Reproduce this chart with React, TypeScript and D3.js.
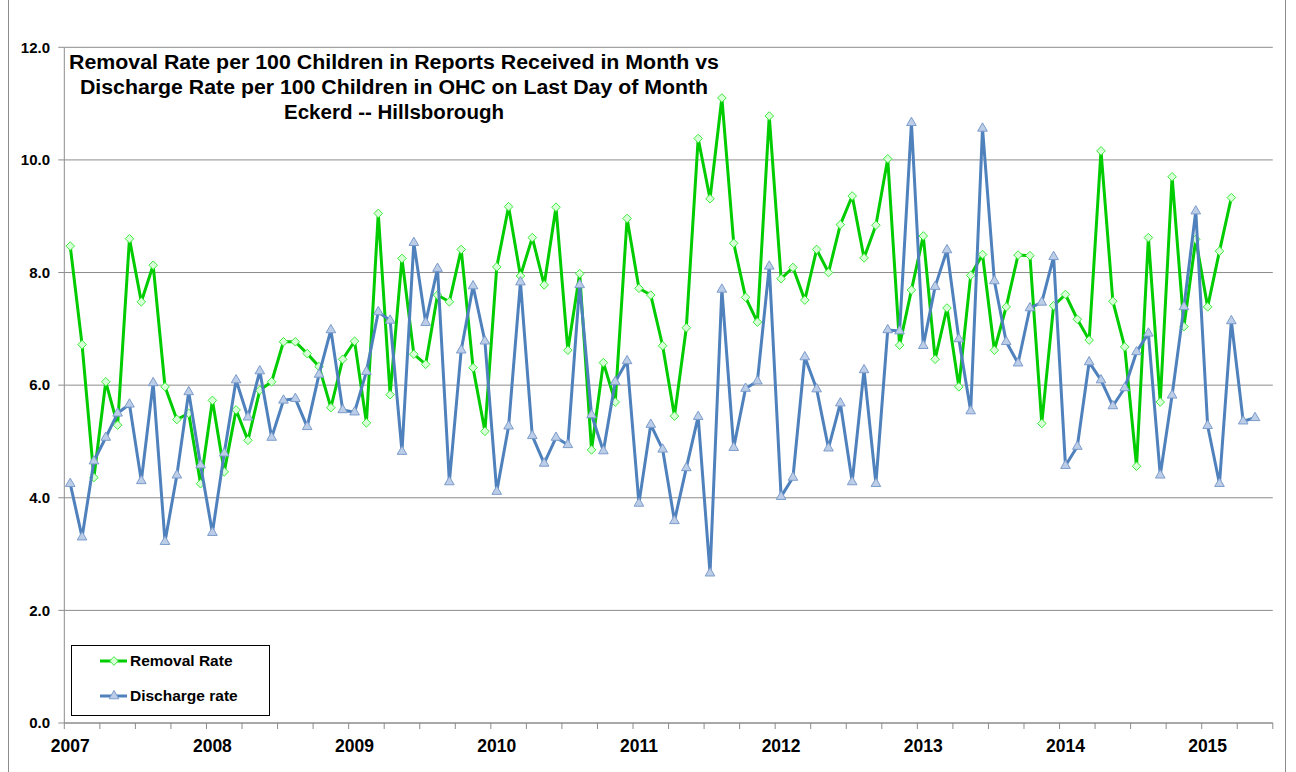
import React from 'react';
import * as d3 from 'd3';

// ---- data (monthly, starting January 2007) ----
const monthCount = 102; // Jan 2007 .. Jun 2015 axis span
const yearLabels = ['2007', '2008', '2009', '2010', '2011', '2012', '2013', '2014', '2015'];
const yTicks = [0, 2, 4, 6, 8, 10, 12];
const seriesNames = ['Removal Rate', 'Discharge rate'];
const titleLines = [
  'Removal Rate per 100 Children in Reports Received in Month vs',
  'Discharge Rate per 100 Children in OHC on Last Day of Month',
  'Eckerd -- Hillsborough',
];
const titleWidths = [650, 628, 220];

const removalRate = [
  8.47, 6.72, 4.36, 6.06, 5.29, 8.6, 7.48, 8.13, 5.97, 5.39, 5.5, 4.25,
  5.73, 4.46, 5.56, 5.02, 5.91, 6.06, 6.77, 6.77, 6.56, 6.33, 5.6, 6.46,
  6.78, 5.33, 9.05, 5.83, 8.25, 6.55, 6.37, 7.6, 7.48, 8.41, 6.31, 5.18,
  8.1, 9.17, 7.94, 8.62, 7.78, 9.16, 6.62, 7.98, 4.85, 6.4, 5.7, 8.96,
  7.72, 7.6, 6.7, 5.45, 7.02, 10.38, 9.31, 11.1, 8.52, 7.56, 7.12, 10.78,
  7.89, 8.09, 7.51, 8.41, 8.0, 8.85, 9.36, 8.26, 8.84, 10.02, 6.71, 7.69,
  8.65, 6.46, 7.37, 5.97, 7.95, 8.32, 6.62, 7.39, 8.31, 8.3, 5.32, 7.41,
  7.61, 7.17, 6.8, 10.16, 7.49, 6.68, 4.56, 8.62, 5.7, 9.7, 7.04, 8.59,
  7.39, 8.38, 9.33,
];

const dischargeRate = [
  4.25, 3.3, 4.65, 5.07, 5.5, 5.66, 4.3, 6.04, 3.22, 4.4, 5.88, 4.58,
  3.38, 4.79, 6.09, 5.43, 6.25, 5.07, 5.73, 5.76, 5.26, 6.19, 6.98, 5.56,
  5.52, 6.24, 7.3, 7.15, 4.82, 8.53, 7.11, 8.07, 4.28, 6.62, 7.76, 6.78,
  4.11, 5.27, 7.83, 5.1, 4.61, 5.07, 4.94, 7.78, 5.47, 4.83, 6.06, 6.43,
  3.9, 5.3, 4.86, 3.59, 4.53, 5.44, 2.66, 7.7, 4.89, 5.94, 6.07, 8.11,
  4.02, 4.36, 6.5, 5.93, 4.88, 5.68, 4.28, 6.27, 4.25, 6.98, 6.96, 10.66,
  6.7, 7.75, 8.4, 6.82, 5.54, 10.56, 7.85, 6.77, 6.39, 7.37, 7.47, 8.28,
  4.57, 4.91, 6.41, 6.09, 5.63, 5.95, 6.59, 6.92, 4.4, 5.82, 7.39, 9.09,
  5.28, 4.25, 7.14, 5.36, 5.42,
];

const GREEN = '#00CC00';
const GREEN_MK_STROKE = '#3CEB3C';
const GREEN_MK_FILL = '#D8FFD8';
const BLUE = '#4F81BD';
const BLUE_MK_STROKE = '#7C9CCB';
const BLUE_MK_FILL = '#BCCDE8';
const FONT = '"Liberation Sans", Arial, sans-serif';

const diamondPath = 'M0,-4.3L4.3,0L0,4.3L-4.3,0Z';
const trianglePath = d3.symbol(d3.symbolTriangle, 40)() as string;

export default function App() {
  const left = 64.3;
  const right = 1272.8;
  const top = 47.3;
  const bottom = 723;
  const x = d3.scaleLinear().domain([0, monthCount]).range([left, right]);
  const y = d3.scaleLinear().domain([0, 12]).range([bottom, top]);

  const line = d3
    .line<number>()
    .x((_, i) => x(i + 0.5))
    .y((d) => y(d));

  const quarterTicks = d3.range(0, monthCount + 1, 3);

  return (
    <svg
      width={1296}
      height={772}
      style={{ position: 'absolute', left: 0, top: 0, background: '#fff' }}
      fontFamily={FONT}
    >
      <rect x={0} y={0} width={1296} height={772} fill="#fff" />
      {/* outer chart border */}
      <rect x={8.5} y={-2} width={1277} height={790} fill="none" stroke="#8c8c8c" strokeWidth={1} />

      {/* gridlines */}
      {yTicks.map((t) => (
        <line key={'g' + t} x1={left} x2={right} y1={y(t)} y2={y(t)} stroke="#8c8c8c" strokeWidth={1} />
      ))}
      {/* y axis */}
      <line x1={left} x2={left} y1={top} y2={bottom} stroke="#8c8c8c" strokeWidth={1} />
      {yTicks.map((t) => (
        <g key={'yt' + t}>
          <line x1={left - 6} x2={left} y1={y(t)} y2={y(t)} stroke="#8c8c8c" />
          <text
            x={50}
            y={y(t)}
            dy="0.35em"
            textAnchor="end"
            fontSize={15}
            fontWeight="bold"
            fill="#000"
          >
            {t.toFixed(1)}
          </text>
        </g>
      ))}

      {/* x axis */}
      <line x1={left} x2={right} y1={bottom} y2={bottom} stroke="#8c8c8c" />
      {quarterTicks.map((m) => (
        <line key={'xt' + m} x1={x(m)} x2={x(m)} y1={bottom} y2={bottom + 6} stroke="#8c8c8c" />
      ))}
      {yearLabels.map((lab, k) => (
        <text
          key={lab}
          x={x(k * 12 + 0.5)}
          y={752}
          textAnchor="middle"
          fontSize={17.5}
          fontWeight="bold"
          fill="#000"
        >
          {lab}
        </text>
      ))}

      {/* removal series */}
      <path d={line(removalRate) || ''} fill="none" stroke={GREEN} strokeWidth={3} strokeLinejoin="round" />
      {removalRate.map((v, i) => (
        <path
          key={'r' + i}
          d={diamondPath}
          transform={`translate(${x(i + 0.5)},${y(v)})`}
          fill={GREEN_MK_FILL}
          stroke={GREEN_MK_STROKE}
          strokeWidth={1}
        />
      ))}

      {/* discharge series */}
      <path d={line(dischargeRate) || ''} fill="none" stroke={BLUE} strokeWidth={3} strokeLinejoin="round" />
      {dischargeRate.map((v, i) => (
        <path
          key={'d' + i}
          d={trianglePath}
          transform={`translate(${x(i + 0.5)},${y(v)})`}
          fill={BLUE_MK_FILL}
          stroke={BLUE_MK_STROKE}
          strokeWidth={1}
        />
      ))}

      {/* title */}
      {titleLines.map((t, k) => (
        <text
          key={'t' + k}
          x={394}
          y={69 + k * 25}
          textAnchor="middle"
          fontSize={20}
          fontWeight="bold"
          fill="#000"
          textLength={titleWidths[k]}
          lengthAdjust="spacingAndGlyphs"
        >
          {t}
        </text>
      ))}

      {/* legend */}
      <rect x={71.5} y={645.5} width={198} height={70} fill="#fff" stroke="#000" strokeWidth={1} />
      {seriesNames.map((name, k) => {
        const cy = 661 + k * 35;
        const isG = k === 0;
        return (
          <g key={name}>
            <line x1={100} x2={127} y1={cy} y2={cy} stroke={isG ? GREEN : BLUE} strokeWidth={3} />
            <path
              d={isG ? diamondPath : trianglePath}
              transform={`translate(114,${cy})`}
              fill={isG ? GREEN_MK_FILL : BLUE_MK_FILL}
              stroke={isG ? GREEN_MK_STROKE : BLUE_MK_STROKE}
            />
            <text x={130} y={cy} dy="0.35em" fontSize={15.5} fontWeight="bold" fill="#000">
              {name}
            </text>
          </g>
        );
      })}
    </svg>
  );
}
